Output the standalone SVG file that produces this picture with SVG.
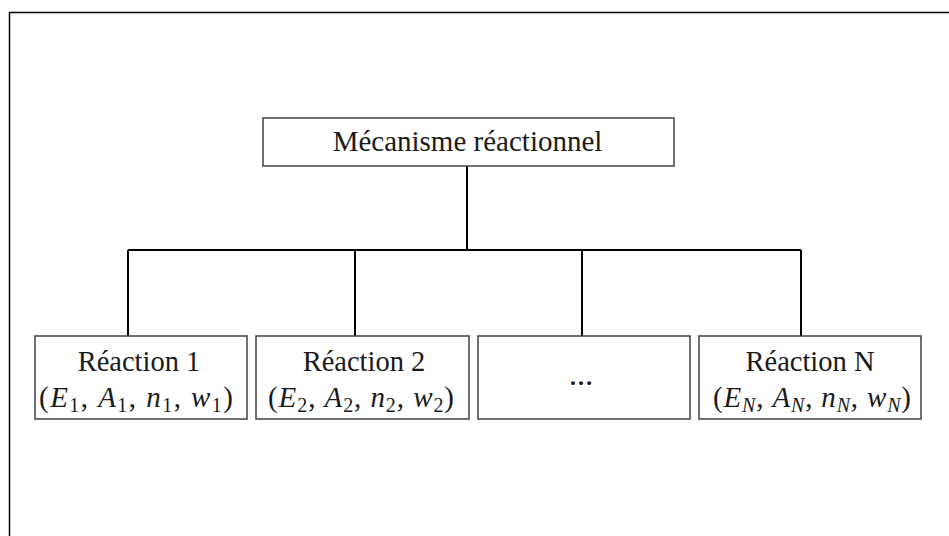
<svg xmlns="http://www.w3.org/2000/svg" width="949" height="536" viewBox="0 0 949 536">
  <style>
    .frame { fill: none; stroke: #000; stroke-width: 1.5; }
    .box { fill: #fff; stroke: #404040; stroke-width: 1.5; }
    .conn { fill: none; stroke: #000; stroke-width: 2; }
    .lbl { font-family: "Liberation Serif", "Times New Roman", serif; font-size: 28.5px; fill: #1a1a1a; text-anchor: middle; }
    .title { font-size: 29px; }
    .math { font-family: "Liberation Serif", "Times New Roman", serif; font-size: 29px; fill: #1a1a1a; text-anchor: middle; }
    .it { font-style: italic; }
    .sub { font-size: 20px; }
  </style>
  <rect width="949" height="536" fill="#fff"/>
  <path class="frame" d="M9.5,536 V12.5 H949"/>

  <g id="connectors">
    <path class="conn" d="M467,166 V250"/>
    <path class="conn" d="M128,250 H801"/>
    <path class="conn" d="M128,250 V336"/>
    <path class="conn" d="M355,250 V336"/>
    <path class="conn" d="M582,250 V336"/>
    <path class="conn" d="M801,250 V336"/>
  </g>

  <g id="mecanisme">
    <rect class="box" x="263" y="118" width="411" height="48"/>
    <text class="lbl title" x="467.5" y="151">Mécanisme réactionnel</text>
  </g>

  <g id="reaction1">
    <rect class="box" x="35" y="336" width="212" height="83"/>
    <text class="lbl" x="139" y="371">Réaction 1</text>
    <text class="math" x="136" y="407" textLength="194" lengthAdjust="spacing">(<tspan class="it">E</tspan><tspan class="sub" dy="5">1</tspan><tspan dy="-5">, </tspan><tspan class="it">A</tspan><tspan class="sub" dy="5">1</tspan><tspan dy="-5">, </tspan><tspan class="it">n</tspan><tspan class="sub" dy="5">1</tspan><tspan dy="-5">, </tspan><tspan class="it">w</tspan><tspan class="sub" dy="5">1</tspan><tspan dy="-5">)</tspan></text>
  </g>

  <g id="reaction2">
    <rect class="box" x="256" y="336" width="213" height="83"/>
    <text class="lbl" x="364" y="371">Réaction 2</text>
    <text class="math" x="361" y="407" textLength="186" lengthAdjust="spacing">(<tspan class="it">E</tspan><tspan class="sub" dy="5">2</tspan><tspan dy="-5">, </tspan><tspan class="it">A</tspan><tspan class="sub" dy="5">2</tspan><tspan dy="-5">, </tspan><tspan class="it">n</tspan><tspan class="sub" dy="5">2</tspan><tspan dy="-5">, </tspan><tspan class="it">w</tspan><tspan class="sub" dy="5">2</tspan><tspan dy="-5">)</tspan></text>
  </g>

  <g id="ellipsis">
    <rect class="box" x="478" y="336" width="212" height="83"/>
    <text class="lbl" x="581" y="385" style="font-size:24px;font-weight:bold">…</text>
  </g>

  <g id="reactionN">
    <rect class="box" x="699" y="336" width="222" height="83"/>
    <text class="lbl" x="810" y="371">Réaction N</text>
    <text class="math" x="812" y="407" textLength="198" lengthAdjust="spacing">(<tspan class="it">E</tspan><tspan class="sub it" dy="5">N</tspan><tspan dy="-5">, </tspan><tspan class="it">A</tspan><tspan class="sub it" dy="5">N</tspan><tspan dy="-5">, </tspan><tspan class="it">n</tspan><tspan class="sub it" dy="5">N</tspan><tspan dy="-5">, </tspan><tspan class="it">w</tspan><tspan class="sub it" dy="5">N</tspan><tspan dy="-5">)</tspan></text>
  </g>
</svg>
